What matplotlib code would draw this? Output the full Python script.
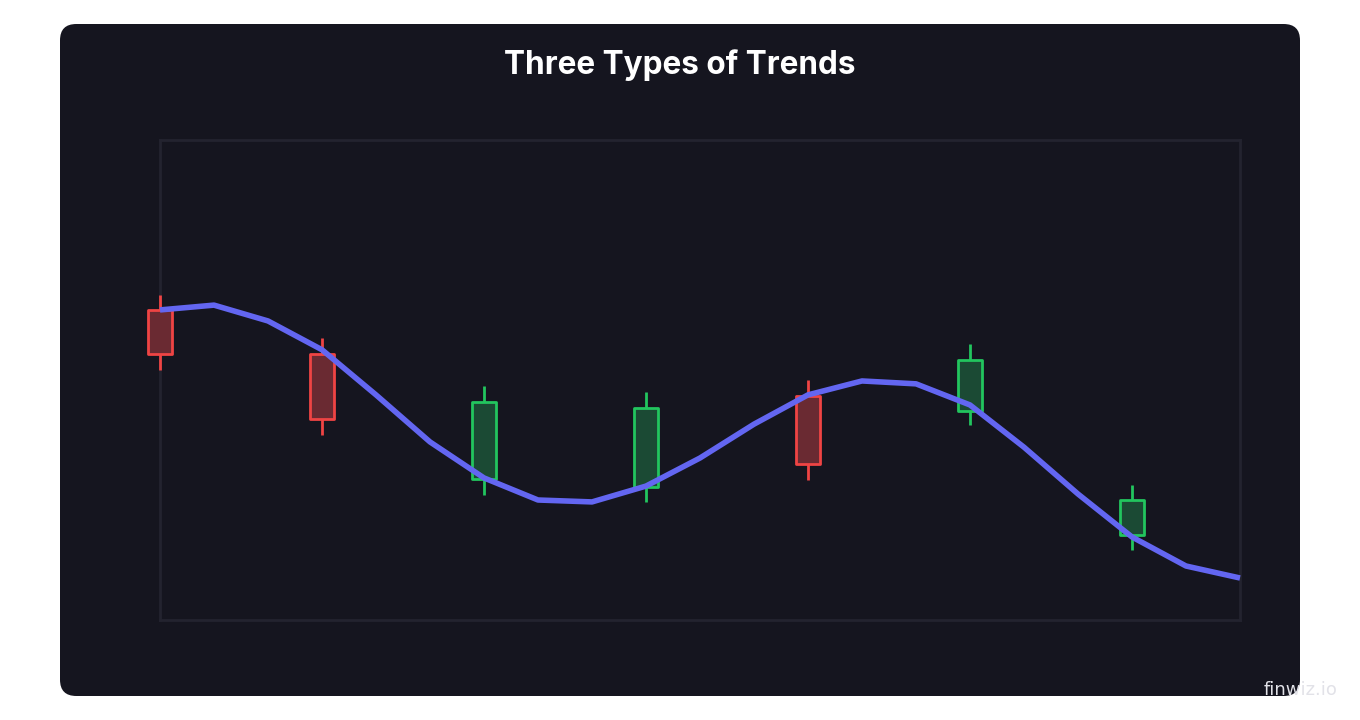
import matplotlib
matplotlib.use("Agg")
import matplotlib.pyplot as plt
from matplotlib.patches import FancyBboxPatch, Rectangle

line_x = list(range(21))
line_y = [64.6, 65.6, 62.3, 56.3, 46.9, 37.1, 29.6, 25.0, 24.6, 27.9, 33.75,
          40.8, 46.9, 49.8, 49.2, 44.8, 36.0, 26.25, 17.3, 11.25, 8.75]

c_x = [0, 3, 6, 9, 12, 15, 18]
c_open = [64.6, 55.4, 29.4, 27.7, 46.7, 43.5, 17.7]
c_close = [55.4, 41.9, 45.4, 44.2, 32.5, 54.2, 25.0]
c_high = [67.7, 58.8, 48.8, 47.5, 50.0, 57.5, 28.1]
c_low = [52.1, 38.5, 26.0, 24.6, 29.2, 40.6, 14.6]

fig = plt.figure(figsize=(13.6, 7.2), dpi=100)
fig.patch.set_facecolor("white")
panel = FancyBboxPatch((60/1360, 24/720), 1240/1360, 672/720,
                       boxstyle="round,pad=0,rounding_size=0.012",
                       transform=fig.transFigure, facecolor="#15151f",
                       edgecolor="none", mutation_aspect=1360/720, zorder=-10)
fig.patches.append(panel)
fig.text(0.5, 1-65/720, "Three Types of Trends", ha="center", va="center",
         color="white", fontsize=22.7, fontweight="bold", family="Inter")
fig.text(1338/1360, 1-690/720, "finwiz.io", ha="right", va="center",
         color="#e2e2e8", fontsize=13)

ax = fig.add_axes([160/1360, 1-620/720, 1080/1360, 480/720])
ax.set_facecolor("#15151f")
ax.set_xlim(0, 20)
ax.set_ylim(0, 100)
for s in ax.spines.values():
    s.set_color("#23232f")
    s.set_linewidth(2)
    s.set_zorder(0.5)
ax.set_xticks([]); ax.set_yticks([])

w = 0.44
for x, o, c, h, l in zip(c_x, c_open, c_close, c_high, c_low):
    up = c > o
    ec = "#22c55e" if up else "#ef4444"
    fc = "#1b4a34" if up else "#6a2a32"
    ax.plot([x, x], [l, h], color=ec, lw=2, zorder=2, solid_capstyle="butt", clip_on=False)
    ax.add_patch(Rectangle((x - w/2, min(o, c)), w, abs(c - o), facecolor=fc,
                           edgecolor=ec, lw=2, zorder=3, joinstyle="round", clip_on=False))
ax.plot(line_x, line_y, color="#6366f1", lw=4, zorder=4, solid_capstyle="butt", clip_on=False)
fig.savefig("out.png", dpi=100, facecolor="white")
